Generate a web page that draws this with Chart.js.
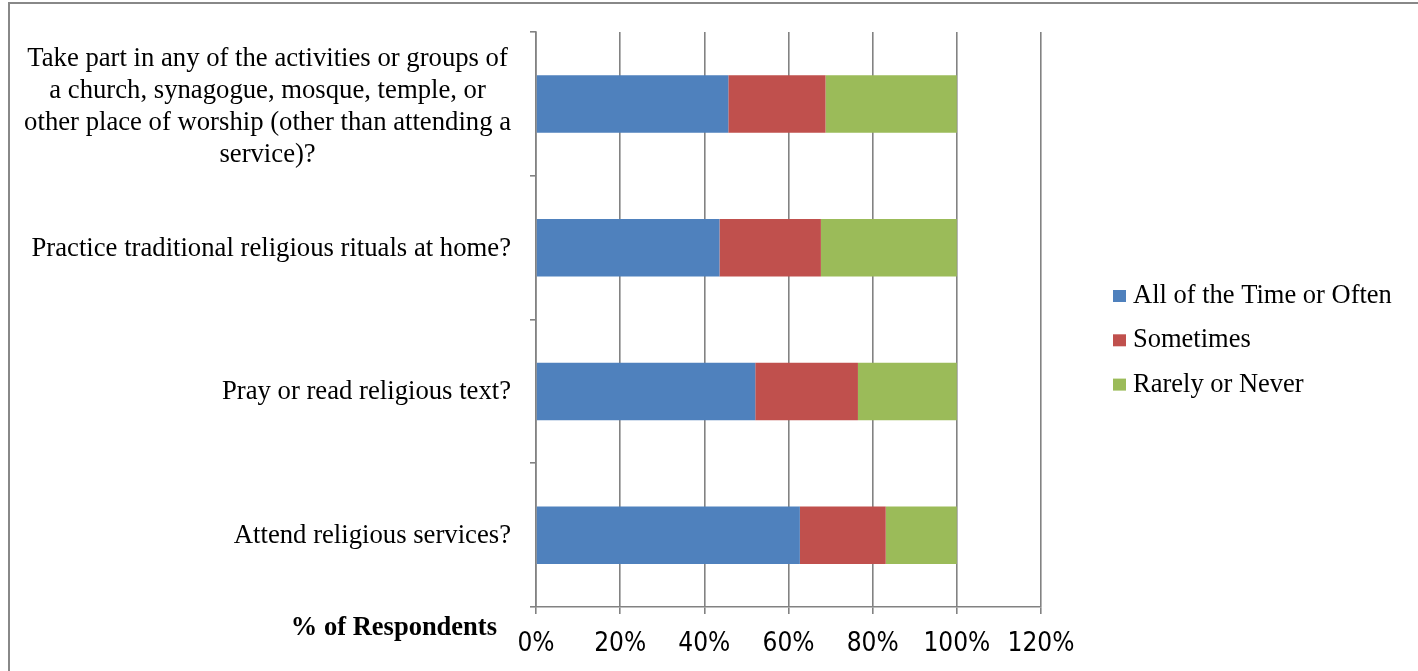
<!DOCTYPE html>
<html>
<head>
<meta charset="utf-8">
<script src="https://cdn.jsdelivr.net/npm/chart.js@4.4.1/dist/chart.umd.min.js"></script>
<style>
  html, body { margin: 0; padding: 0; background: #fff; }
  #wrap { position: relative; width: 1418px; height: 671px; }
</style>
</head>
<body>
<div id="wrap"><canvas id="myChart"></canvas></div>
<script>
// survey questions, top to bottom (line breaks as shown on the axis)
var categories = [
    ['Take part in any of the activities or groups of',
     'a church, synagogue, mosque, temple, or',
     'other place of worship (other than attending a',
     'service)?'],
    ['Practice traditional religious rituals at home?'],
    ['Pray or read religious text?'],
    ['Attend religious services?']
];

var seriesNames = ['All of the Time or Often', 'Sometimes', 'Rarely or Never'];
var seriesColors = ['#4F81BD', '#C0504D', '#9BBB59'];

// % of respondents per answer
var allTime = [45.7, 43.6, 52.1, 62.7];
var sometimes = [23.1, 24.1, 24.4, 20.4];
var rarely = [31.2, 32.3, 23.5, 16.9];

var xTicks = [0, 20, 40, 60, 80, 100, 120];

var serif = "'Liberation Serif', 'Times New Roman', serif";
var narrow = "'Liberation Sans Narrow', 'DejaVu Sans Condensed', 'Roboto', sans-serif";
var gridColor = '#828282';

// category labels: lines centred on each other, block right-aligned to the axis
var categoryLabels = {
    id: 'categoryLabels',
    afterDraw: function (chart) {
        var ctx = chart.ctx;
        var y = chart.scales.y;
        var right = y.right - 25;
        ctx.save();
        ctx.font = '26.7px ' + serif;
        ctx.fillStyle = '#000';
        ctx.textAlign = 'center';
        ctx.textBaseline = 'middle';
        categories.forEach(function (lines, i) {
            var yc = y.getPixelForTick(i) + 1;
            if (lines.length > 1) yc += 2;
            var w = Math.max.apply(null, lines.map(function (l) { return ctx.measureText(l).width; }));
            var x = right - w / 2;
            lines.forEach(function (line, j) {
                ctx.fillText(line, x, yc + (j - (lines.length - 1) / 2) * 32);
            });
        });
        ctx.restore();
    }
};

// legend to the right of the plot, vertically stacked
var sideLegend = {
    id: 'sideLegend',
    afterDraw: function (chart) {
        var ctx = chart.ctx;
        var x0 = chart.chartArea.right + 72;
        ctx.save();
        ctx.font = '26.5px ' + serif;
        ctx.textBaseline = 'middle';
        chart.data.datasets.forEach(function (ds, i) {
            var yc = 296 + i * 44.3;
            ctx.fillStyle = ds.backgroundColor;
            ctx.fillRect(x0, yc - 6, 13, 12);
            ctx.fillStyle = '#000';
            ctx.fillText(ds.label, x0 + 20, yc);
        });
        ctx.restore();
    }
};

// bold axis caption left of the tick labels, plus the outer frame
var decorations = {
    id: 'decorations',
    beforeDraw: function (chart) {
        var ctx = chart.ctx;
        ctx.save();
        ctx.strokeStyle = '#888';
        ctx.lineWidth = 2;
        ctx.beginPath();
        ctx.moveTo(9, chart.height);
        ctx.lineTo(9, 3);
        ctx.lineTo(chart.width, 3);
        ctx.stroke();
        ctx.restore();
    },
    afterDraw: function (chart) {
        var ctx = chart.ctx;
        ctx.save();
        ctx.font = 'bold 26.5px ' + serif;
        ctx.fillStyle = '#000';
        ctx.textAlign = 'right';
        ctx.textBaseline = 'middle';
        ctx.fillText('% of Respondents', chart.chartArea.left - 39, 628);
        ctx.restore();
    }
};

var ctx = document.getElementById('myChart').getContext('2d');
var myChart = new Chart(ctx, {
    type: 'bar',
    data: {
        labels: categories,
        datasets: [{
            label: seriesNames[0],
            data: allTime,
            backgroundColor: seriesColors[0]
        }, {
            label: seriesNames[1],
            data: sometimes,
            backgroundColor: seriesColors[1]
        }, {
            label: seriesNames[2],
            data: rarely,
            backgroundColor: seriesColors[2]
        }]
    },
    options: {
        indexAxis: 'y',
        responsive: true,
        maintainAspectRatio: false,
        animation: false,
        datasets: {
            bar: {
                categoryPercentage: 1,
                barPercentage: 0.4,
                borderWidth: 0
            }
        },
        layout: {
            padding: { left: 0, top: 32, right: 377, bottom: 0 }
        },
        plugins: {
            legend: { display: false },
            tooltip: { enabled: false }
        },
        scales: {
            x: {
                stacked: true,
                min: 0,
                max: 120,
                afterBuildTicks: function (scale) {
                    scale.ticks = xTicks.map(function (v) { return { value: v }; });
                },
                afterFit: function (scale) {
                    scale.height = 64;
                },
                ticks: {
                    padding: 15,
                    color: '#000',
                    font: { family: narrow, size: 26 },
                    maxRotation: 0,
                    callback: function (value) {
                        return value + '%';
                    }
                },
                grid: {
                    color: gridColor,
                    lineWidth: 1.6,
                    tickLength: 7
                },
                border: {
                    color: gridColor,
                    width: 1.6
                }
            },
            y: {
                stacked: true,
                afterFit: function (scale) {
                    scale.width = 536;
                },
                ticks: {
                    display: false
                },
                grid: {
                    offset: true,
                    drawOnChartArea: false,
                    color: gridColor,
                    lineWidth: 1.6,
                    tickLength: 6
                },
                border: {
                    color: gridColor,
                    width: 1.6
                }
            }
        }
    },
    plugins: [categoryLabels, sideLegend, decorations]
});
</script>
</body>
</html>
